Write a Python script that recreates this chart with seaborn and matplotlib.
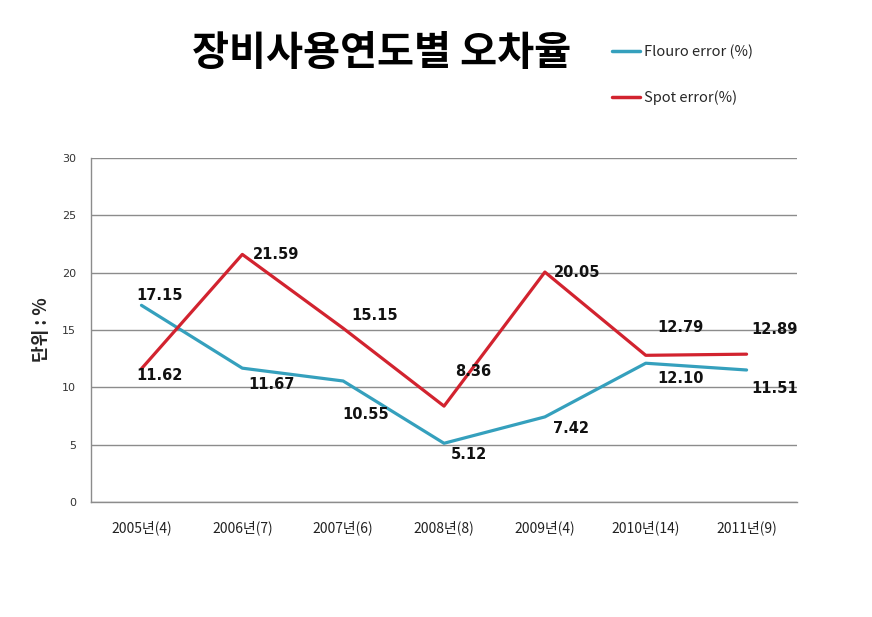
import matplotlib
matplotlib.use("Agg")
import matplotlib.pyplot as plt
import seaborn as sns
import pandas as pd

categories = ["2005년(4)", "2006년(7)", "2007년(6)", "2008년(8)", "2009년(4)", "2010년(14)", "2011년(9)"]
flouro = [17.15, 11.67, 10.55, 5.12, 7.42, 12.10, 11.51]
spot = [11.62, 21.59, 15.15, 8.36, 20.05, 12.79, 12.89]
series_names = ["Flouro error (%)", "Spot error(%)"]
y_ticks = [0, 5, 10, 15, 20, 25, 30]

# label offsets (points) for annotations
flouro_off = [(13, 7), (21, -12), (16, -24), (18, -8), (19, -8), (25, -11), (20, -13)]
spot_off = [(13, -5), (24, 0), (23, 9), (21, 25), (23, 0), (25, 20), (20, 18)]

sns.set_theme(style="white")
plt.rcParams["font.family"] = ["Noto Sans CJK KR", "DejaVu Sans"]

df = pd.DataFrame({
    "x": list(range(len(categories))) * 2,
    "value": flouro + spot,
    "series": [series_names[0]] * len(flouro) + [series_names[1]] * len(spot),
})

fig = plt.figure(figsize=(8.72, 6.17), dpi=100)
ax = fig.add_axes([0.1044, 0.1864, 0.8096, 0.5576])

palette = {series_names[0]: "#35a0bd", series_names[1]: "#d2232f"}
sns.lineplot(data=df, x="x", y="value", hue="series", palette=palette,
             linewidth=2.3, ax=ax, sort=False, legend=True)

ax.set_xlim(-0.5, len(categories) - 0.5)
ax.set_ylim(0, 30)
ax.set_yticks(y_ticks)
ax.set_yticklabels([str(t) for t in y_ticks], fontsize=8, color="#333333",
                   family=["DejaVu Sans"])
ax.set_xticks(range(len(categories)))
ax.set_xticklabels(categories, fontsize=10, color="#222222")
ax.tick_params(axis="x", pad=13, length=0)
ax.tick_params(axis="y", pad=11, length=0)
ax.yaxis.grid(True, color="#8c8c8c", linewidth=1)
ax.set_axisbelow(True)
for s in ["top", "right"]:
    ax.spines[s].set_visible(False)
for s in ["left", "bottom"]:
    ax.spines[s].set_color("#8c8c8c")
    ax.spines[s].set_linewidth(1)
ax.set_xlabel("")
ax.set_ylabel("단위 : %", fontsize=13, fontweight="bold", labelpad=8)

for i, v in enumerate(flouro):
    ax.annotate(f"{v:.2f}", (i, v), xytext=flouro_off[i], textcoords="offset points",
                ha="center", va="center", fontsize=10.5, fontweight="bold",
                family=["DejaVu Sans"], color="#111111")
for i, v in enumerate(spot):
    ax.annotate(f"{v:.2f}", (i, v), xytext=spot_off[i], textcoords="offset points",
                ha="center", va="center", fontsize=10.5, fontweight="bold",
                family=["DejaVu Sans"], color="#111111")

leg = ax.legend(loc="upper left", bbox_to_anchor=(0.687, 0.9485), bbox_transform=fig.transFigure,
                frameon=False, fontsize=10.5, handlelength=1.9, handletextpad=0.3,
                labelspacing=2.1, title=None)
for line in leg.get_lines():
    line.set_linewidth(2.5)

fig.text(0.438, 0.914, "장비사용연도별 오차율", ha="center", va="center",
         fontsize=29, fontweight="bold", color="black")

fig.savefig("out.png", dpi=100)
